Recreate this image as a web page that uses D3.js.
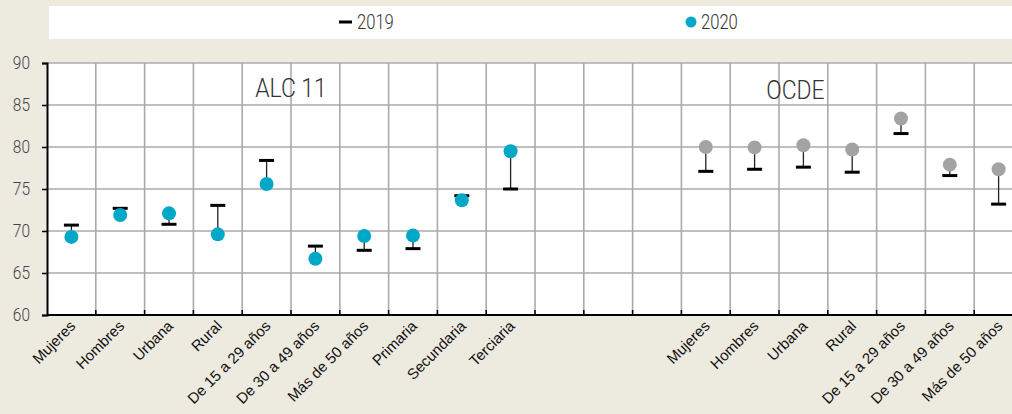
<!DOCTYPE html>
<html lang="es">
<head>
<meta charset="utf-8">
<title>ALC 11 y OCDE 2019-2020</title>
<script src="https://cdn.jsdelivr.net/npm/d3@7"></script>
<style>
  body { margin: 0; background: #edeae0; }
  svg { display: block; }
</style>
</head>
<body>
<script>
// categories and values
var alcLabels = ["Mujeres", "Hombres", "Urbana", "Rural", "De 15 a 29 años", "De 30 a 49 años",
                 "Más de 50 años", "Primaria", "Secundaria", "Terciaria"];
var alc2019 = [70.7, 72.7, 70.8, 73.05, 78.4, 68.2, 67.7, 67.9, 74.2, 75.0];
var alc2020 = [69.3, 71.9, 72.1, 69.6, 75.6, 66.7, 69.4, 69.45, 73.65, 79.5];

var ocdeLabels = ["Mujeres", "Hombres", "Urbana", "Rural", "De 15 a 29 años", "De 30 a 49 años",
                  "Más de 50 años"];
var ocde2019 = [77.1, 77.35, 77.6, 77.0, 81.6, 76.6, 73.2];
var ocde2020 = [80.0, 79.95, 80.2, 79.7, 83.4, 77.9, 77.35];

var gapCount = 3;
var yTicks = [60, 65, 70, 75, 80, 85, 90];
var legendItems = ["2019", "2020"];

// build one row per column (empty ones in the middle)
var rows = [];
alcLabels.forEach(function(l, i) {
  rows.push({label: l, v19: alc2019[i], v20: alc2020[i], group: "alc"});
});
for (var g = 0; g < gapCount; g++) rows.push({label: "", v19: null, v20: null, group: null});
ocdeLabels.forEach(function(l, i) {
  rows.push({label: l, v19: ocde2019[i], v20: ocde2020[i], group: "ocde"});
});

var W = 1012, H = 414;
var plotLeft = 47, plotTop = 63, plotBottom = 315;
var colW = 48.8;

var svg = d3.select("body").append("svg")
  .attr("width", W).attr("height", H);

var x = d3.scaleBand()
  .domain(d3.range(rows.length))
  .range([plotLeft, plotLeft + colW * rows.length])
  .padding(0);

var y = d3.scaleLinear().domain([60, 90]).range([plotBottom, plotTop]);

// light narrow look: Roboto Light squeezed horizontally
var lightFont = "Roboto, 'Liberation Sans', sans-serif";
function narrowText(sel, px, py, size, sx, anchor, txt) {
  return sel.append("text")
    .attr("transform", "translate(" + px + "," + py + ") scale(" + sx + ",1)")
    .attr("text-anchor", anchor || "start")
    .attr("font-family", lightFont).attr("font-weight", 300)
    .attr("font-size", size).attr("fill", "#333")
    .text(txt);
}

// legend box
svg.append("rect")
  .attr("x", 49).attr("y", 6)
  .attr("width", W - 49).attr("height", 33)
  .attr("fill", "#fff");

var leg = svg.append("g");
leg.append("line")
  .attr("x1", 339).attr("x2", 352).attr("y1", 22).attr("y2", 22)
  .attr("stroke", "#000").attr("stroke-width", 3);
narrowText(leg, 357, 29, 20, 0.83, "start", legendItems[0]);
leg.append("circle")
  .attr("cx", 691).attr("cy", 22).attr("r", 5.5)
  .attr("fill", "#00a8c8");
narrowText(leg, 701, 29, 20, 0.83, "start", legendItems[1]);

// plot background
svg.append("rect")
  .attr("x", plotLeft).attr("y", plotTop)
  .attr("width", W - plotLeft).attr("height", plotBottom - plotTop)
  .attr("fill", "#fff");

// horizontal grid
svg.append("g").selectAll("line")
  .data(yTicks.slice(1))
  .enter().append("line")
  .attr("x1", plotLeft).attr("x2", W)
  .attr("y1", function(d) { return y(d); })
  .attr("y2", function(d) { return y(d); })
  .attr("stroke", "#aaa").attr("stroke-width", 1.6);

// vertical grid
svg.append("g").selectAll("line")
  .data(d3.range(1, rows.length))
  .enter().append("line")
  .attr("x1", function(d) { return x(d); })
  .attr("x2", function(d) { return x(d); })
  .attr("y1", plotTop).attr("y2", plotBottom)
  .attr("stroke", "#aaa").attr("stroke-width", 1.6);

// y axis
var yAxis = svg.append("g")
  .attr("transform", "translate(" + plotLeft + ",0)")
  .call(d3.axisLeft(y).tickValues(yTicks).tickSize(5).tickPadding(12));
yAxis.select(".domain").attr("stroke", "#000").attr("stroke-width", 2);
yAxis.selectAll(".tick line").attr("stroke", "#000").attr("stroke-width", 1.5);
yAxis.selectAll("text")
  .attr("x", null)
  .attr("transform", "translate(-17,0) scale(0.86,1)")
  .attr("font-family", lightFont).attr("font-weight", 300)
  .attr("font-size", 18).attr("fill", "#444");

// x axis (ticks at column boundaries, pointing up)
svg.append("line")
  .attr("x1", plotLeft).attr("x2", W)
  .attr("y1", plotBottom).attr("y2", plotBottom)
  .attr("stroke", "#000").attr("stroke-width", 2);
svg.append("g").selectAll("line")
  .data(d3.range(1, rows.length))
  .enter().append("line")
  .attr("x1", function(d) { return x(d); })
  .attr("x2", function(d) { return x(d); })
  .attr("y1", plotBottom).attr("y2", plotBottom - 5)
  .attr("stroke", "#000").attr("stroke-width", 1.5);

// x labels
svg.append("g").selectAll("text")
  .data(rows)
  .enter().append("text")
  .attr("transform", function(d, i) {
    return "translate(" + (x(i) + x.bandwidth() / 2 + 5) + "," + (plotBottom + 12) + ") rotate(-45)";
  })
  .attr("text-anchor", "end")
  .attr("font-family", "'Liberation Sans', Arial, sans-serif")
  .attr("font-size", 15).attr("fill", "#111")
  .text(function(d) { return d.label; });

// group titles
narrowText(svg, x(5), 97, 26, 0.88, "middle", "ALC 11");
narrowText(svg, x(15) + x.bandwidth() / 2 - 8, 99, 26, 0.88, "middle", "OCDE");

var data = rows.map(function(d, i) { d.i = i; return d; })
  .filter(function(d) { return d.v19 !== null; });
var cx = function(d) { return x(d.i) + x.bandwidth() / 2; };

// connectors
svg.append("g").selectAll("line")
  .data(data)
  .enter().append("line")
  .attr("x1", cx).attr("x2", cx)
  .attr("y1", function(d) { return y(d.v19); })
  .attr("y2", function(d) { return y(d.v20); })
  .attr("stroke", "#222").attr("stroke-width", 1.3);

// 2019 markers
svg.append("g").selectAll("line")
  .data(data)
  .enter().append("line")
  .attr("x1", function(d) { return cx(d) - 7.5; })
  .attr("x2", function(d) { return cx(d) + 7.5; })
  .attr("y1", function(d) { return y(d.v19); })
  .attr("y2", function(d) { return y(d.v19); })
  .attr("stroke", "#000").attr("stroke-width", 3);

// 2020 points
svg.append("g").selectAll("circle")
  .data(data)
  .enter().append("circle")
  .attr("cx", cx)
  .attr("cy", function(d) { return y(d.v20); })
  .attr("r", 7)
  .attr("fill", function(d) { return d.group === "alc" ? "#00a8c8" : "#a3a3a3"; });
</script>
</body>
</html>
